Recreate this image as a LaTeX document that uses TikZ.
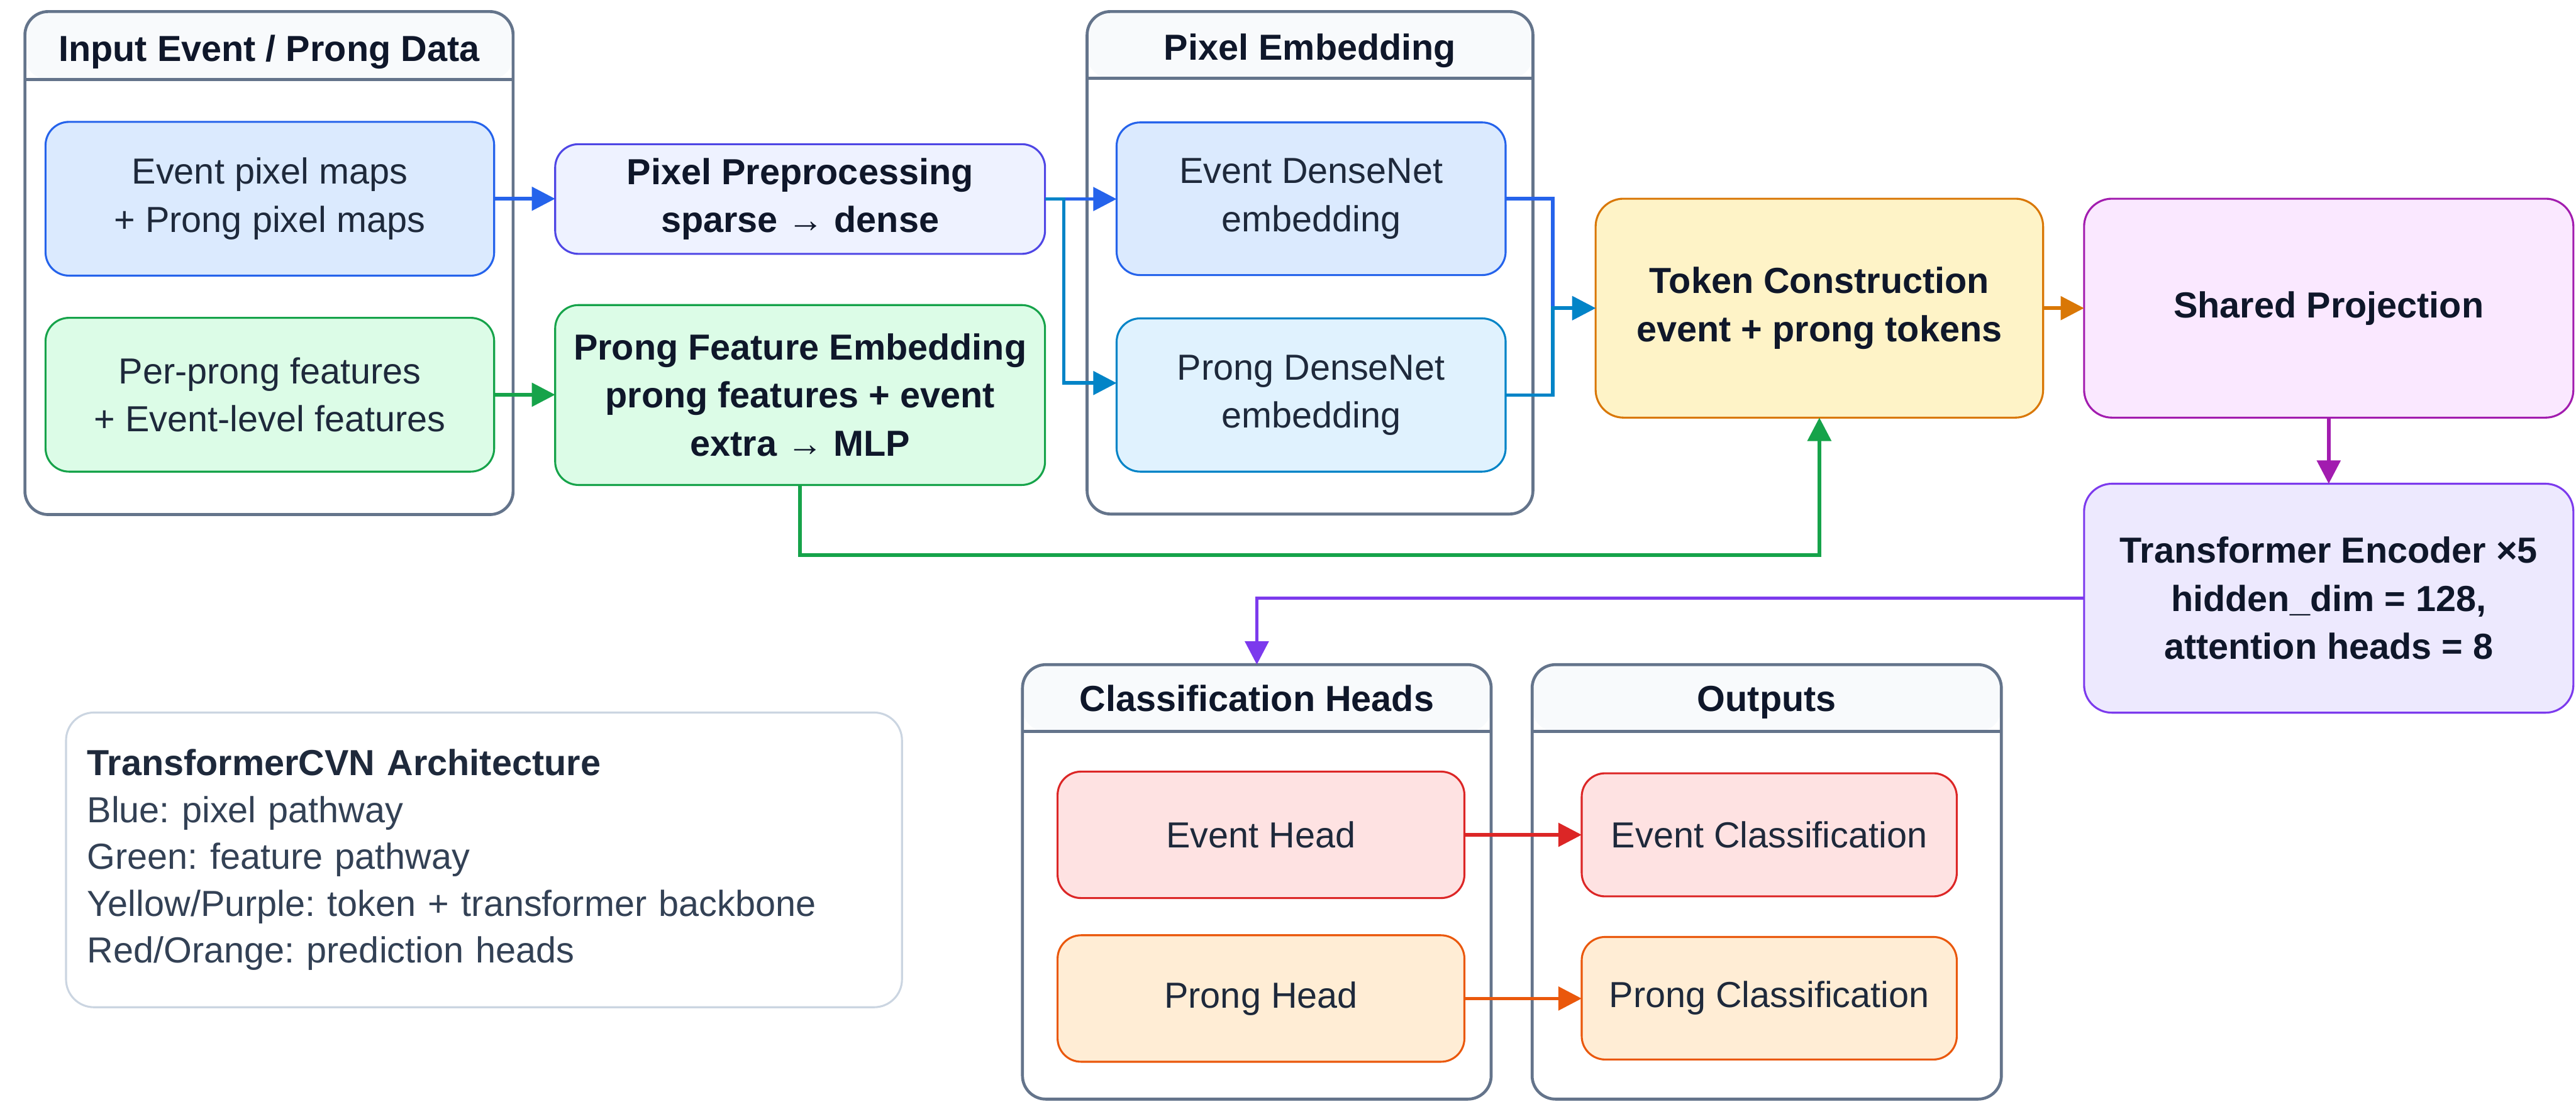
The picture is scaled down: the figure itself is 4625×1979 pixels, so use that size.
\documentclass[tikz,border=0pt]{standalone}
\usepackage{fontspec}
\setmainfont{Liberation Sans}
\usetikzlibrary{arrows.meta}
\frenchspacing
\definecolor{txt}{HTML}{1E293B}
\definecolor{txtb}{HTML}{0F172A}
\definecolor{legtxt}{HTML}{334155}
\definecolor{grpc}{HTML}{64748B}
\definecolor{hdr}{HTML}{F8FAFC}
\definecolor{legc}{HTML}{CBD5E1}
\definecolor{cblue}{HTML}{2563EB}
\definecolor{fblue}{HTML}{DBEAFE}
\definecolor{cindigo}{HTML}{4F46E5}
\definecolor{findigo}{HTML}{EEF2FF}
\definecolor{cgreen}{HTML}{16A34A}
\definecolor{fgreen}{HTML}{DCFCE7}
\definecolor{ccyan}{HTML}{0284C7}
\definecolor{fcyan}{HTML}{E0F2FE}
\definecolor{camber}{HTML}{D97706}
\definecolor{famber}{HTML}{FEF3C7}
\definecolor{cfuch}{HTML}{A21CAF}
\definecolor{ffuch}{HTML}{FAE8FF}
\definecolor{cviolet}{HTML}{7C3AED}
\definecolor{fviolet}{HTML}{EDE9FE}
\definecolor{cred}{HTML}{DC2626}
\definecolor{fred}{HTML}{FEE2E2}
\definecolor{corng}{HTML}{EA580C}
\definecolor{forng}{HTML}{FFEDD5}
\newcommand{\bodyf}{\fontsize{18.5}{24.5}\selectfont}
\newcommand{\boldf}{\fontsize{18.5}{24.5}\selectfont\bfseries}
\newcommand{\legf}{\fontsize{18.5}{23.9}\selectfont}
\begin{document}
\begin{tikzpicture}[x=0.01cm,y=-0.01cm,
  box/.style={draw, rounded corners=0.42cm, line width=1pt, inner sep=0pt, outer sep=0pt,
    align=center, font=\bodyf, text=txt},
  bbox/.style={box, font=\boldf, text=txtb},
  grp/.style={draw=grpc, line width=1.5pt, rounded corners=0.42cm, fill=white, inner sep=0pt, outer sep=0pt,
    path picture={
      \fill[hdr] (path picture bounding box.north west) rectangle ([yshift=-#1]path picture bounding box.north east);
      \draw[grpc, line width=1.5pt] ([yshift=-#1]path picture bounding box.north west) -- ([yshift=-#1]path picture bounding box.north east);
    }},
  gtitle/.style={font=\boldf, text=txtb, inner sep=0pt, anchor=base},
  conn/.style={line width=1.8pt, -{Triangle[length=0.42cm,width=0.42cm]}},
  legend/.style={draw=legc, line width=1pt, rounded corners=0.5cm, fill=white, inner xsep=0.38cm, inner ysep=0pt,
    text width=14.24cm, minimum height=5.29cm, align=left, font=\legf, text=legtxt}
]
\useasboundingbox[fill=white] (0,0) rectangle (4625,1979);

% groups
\node[grp=1.22cm, minimum width=8.76cm, minimum height=9.03cm] (g1) at (483,472.5) {};
\node[gtitle] (g1t) at (483,110) {Input Event / Prong Data};
\node[grp=1.20cm, minimum width=8.00cm, minimum height=9.02cm] (g2) at (2352,472) {};
\node[gtitle] (g2t) at (2352,108) {Pixel Embedding};
\node[grp=1.20cm, minimum width=8.41cm, minimum height=7.80cm] (g3) at (2256.5,1584) {};
\node[gtitle] (g3t) at (2256.5,1278) {Classification Heads};
\node[grp=1.20cm, minimum width=8.42cm, minimum height=7.80cm] (g4) at (3172,1584) {};
\node[gtitle] (g4t) at (3172,1278) {Outputs};

% boxes
\node[box, draw=cblue, fill=fblue, minimum width=8.05cm, minimum height=2.76cm] (epm) at (484.5,357) {Event pixel maps\\+ Prong pixel maps};
\node[box, draw=cgreen, fill=fgreen, minimum width=8.05cm, minimum height=2.76cm] (ppf) at (484.5,709) {Per-prong features\\+ Event-level features};
\node[bbox, draw=cindigo, fill=findigo, minimum width=8.79cm, minimum height=1.97cm] (pre) at (1436.5,357.5) {Pixel Preprocessing\\sparse → dense};
\node[bbox, draw=cgreen, fill=fgreen, minimum width=8.79cm, minimum height=3.23cm] (pfe) at (1436.5,709.5) {Prong Feature Embedding\\prong features + event\\extra → MLP};
\node[box, draw=cblue, fill=fblue, minimum width=6.98cm, minimum height=2.74cm] (edn) at (2354,357) {Event DenseNet\\embedding};
\node[box, draw=ccyan, fill=fcyan, minimum width=6.98cm, minimum height=2.75cm] (pdn) at (2354,709.5) {Prong DenseNet\\embedding};
\node[bbox, draw=camber, fill=famber, rounded corners=0.5cm, minimum width=8.03cm, minimum height=3.93cm] (tok) at (3266.5,553.5) {Token Construction\\event + prong tokens};
\node[bbox, draw=cfuch, fill=ffuch, rounded corners=0.5cm, minimum width=8.78cm, minimum height=3.93cm] (shp) at (4181,553.5) {Shared Projection};
\node[bbox, draw=cviolet, fill=fviolet, rounded corners=0.5cm, minimum width=8.78cm, minimum height=4.11cm] (tfe) at (4181,1074.5) {Transformer Encoder ×5\\hidden\_dim = 128,\\attention heads = 8};
\node[box, draw=cred, fill=fred, minimum width=7.30cm, minimum height=2.27cm] (eh) at (2264,1499.5) {Event Head};
\node[box, draw=corng, fill=forng, minimum width=7.30cm, minimum height=2.27cm] (ph) at (2264,1793.5) {Prong Head};
\node[box, draw=cred, fill=fred, minimum width=6.73cm, minimum height=2.21cm] (ec) at (3176.5,1499.5) {Event Classification};
\node[box, draw=corng, fill=forng, minimum width=6.73cm, minimum height=2.20cm] (pc) at (3176.5,1793) {Prong Classification};

% legend
\node[legend] (leg) at (869,1544.5) {{\color{txt}\bfseries TransformerCVN Architecture}\\Blue: pixel pathway\\Green: feature pathway\\Yellow/Purple: token + transformer backbone\\Red/Orange: prediction heads};

% connectors
\draw[conn, cblue] (epm.east) -- (epm.east -| pre.west);
\draw[conn, cgreen] (ppf.east) -- (ppf.east -| pfe.west);
\draw[conn, cblue] (pre.east) -- (pre.east -| edn.west);
\draw[conn, ccyan] (pre.east) -- (1910,357.5) |- ([yshift=0.215cm]pdn.west);
\draw[conn, cblue] (edn.east) -- (2788,357) |- (tok.west);
\draw[conn, ccyan] (pdn.east) -- (2788,709.5) |- (tok.west);
\draw[conn, camber] (tok.east) -- (shp.west);
\draw[conn, cgreen] (pfe.south) -- (1436.5,997) -| (tok.south);
\draw[conn, cfuch] (shp.south) -- (tfe.north);
\draw[conn, cviolet] (tfe.west) -| (g3.north);
\draw[conn, cred] (eh.east) -- (ec.west);
\draw[conn, corng] (ph.east) -- (ph.east -| pc.west);
\end{tikzpicture}
\end{document}
